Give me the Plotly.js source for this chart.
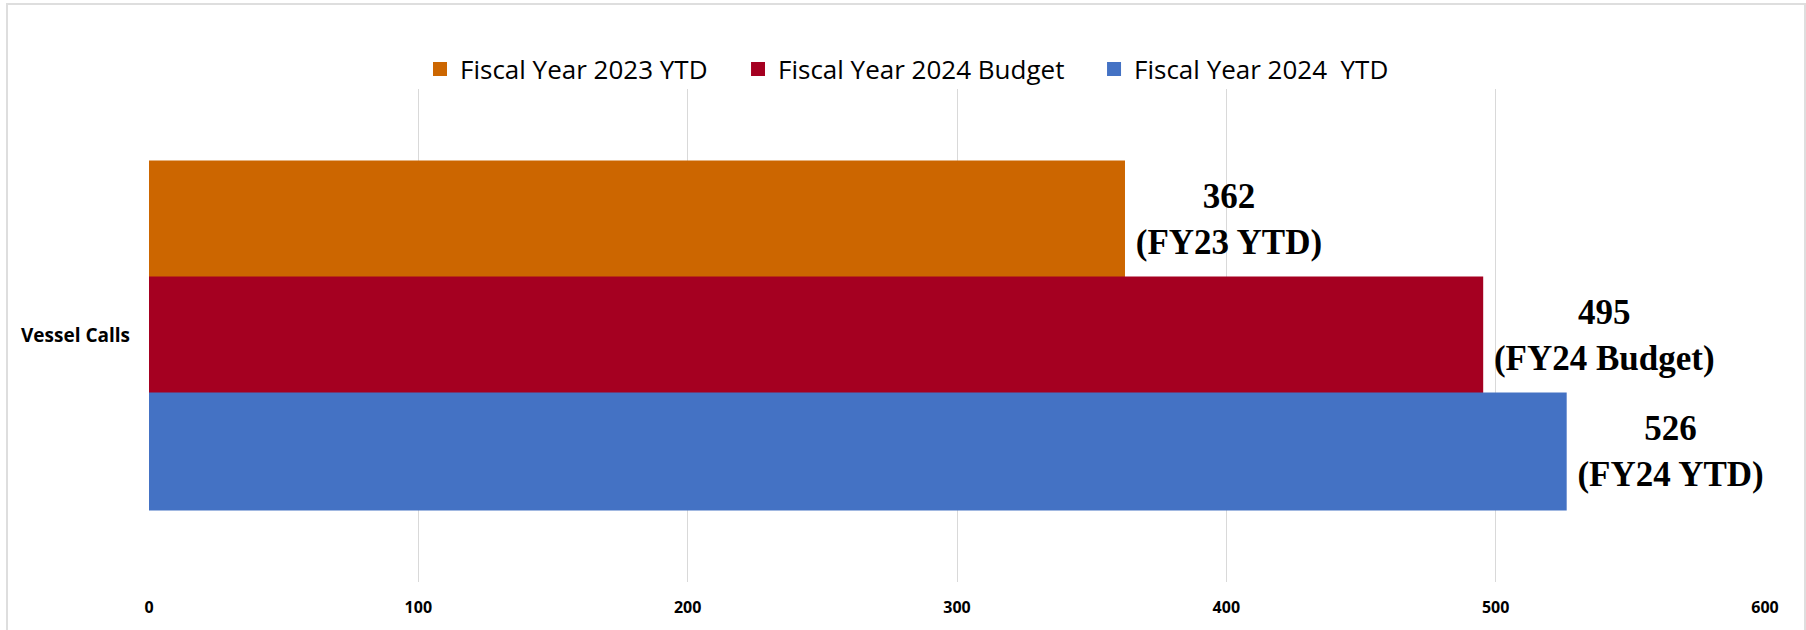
<!DOCTYPE html>
<html><head><meta charset="utf-8">
<script src="https://cdn.plot.ly/plotly-3.0.1.min.js"></script>
<style>
html,body{margin:0;padding:0;background:#fff;overflow:hidden;}
#chart{position:absolute;left:0;top:0;width:1806px;height:630px;}
#frame{position:absolute;left:6px;top:3px;width:1800px;height:660px;border:2px solid #dedede;box-sizing:border-box;pointer-events:none;}
</style>
</head><body>
<div id="chart"></div><div id="frame"></div>
<script>
// ---- data ----
const categories = ['Vessel Calls'];
const seriesNames = ['Fiscal Year 2023 YTD', 'Fiscal Year 2024 Budget', 'Fiscal Year 2024\u00a0 YTD'];
const fy23Ytd = [362];
const fy24Budget = [495];
const fy24Ytd = [526];
const seriesLabels = ['(FY23 YTD)', '(FY24 Budget)', '(FY24 YTD)'];
const seriesColors = ['#CC6600', '#A50021', '#4472C4'];
const xTickVals = [0, 100, 200, 300, 400, 500, 600];

const seriesValues = [fy23Ytd, fy24Budget, fy24Ytd];
const legendIds = ['legend', 'legend2', 'legend3'];
const legendX = [0.1677, 0.3645, 0.5848];

const traces = seriesValues.map((vals, i) => ({
  type: 'bar',
  orientation: 'h',
  name: seriesNames[i],
  y: categories,
  x: vals,
  legend: legendIds[i],
  marker: {color: seriesColors[i], line: {color: seriesColors[i], width: 2}},
  text: vals.map(v => v + '<br>\u00a0' + seriesLabels[i] + '\u00a0'),
  textposition: 'outside',
  cliponaxis: false,
  constraintext: 'none',
  textfont: {family: 'Liberation Serif, Times New Roman, serif', size: 35, weight: 'bold', color: '#000'},
  hoverinfo: 'skip'
}));

const legendBase = {
  orientation: 'h', xanchor: 'left', yanchor: 'middle', y: 1.0406,
  bgcolor: 'rgba(0,0,0,0)', borderwidth: 0,
  font: {family: 'Open Sans, sans-serif', size: 26, color: '#000'}
};

const layout = {
  width: 1806, height: 630,
  margin: {l: 149, r: 41, t: 89, b: 48, pad: 0},
  paper_bgcolor: '#fff', plot_bgcolor: '#fff',
  barmode: 'group', bargap: 0.294, bargroupgap: 0,
  showlegend: true,
  xaxis: {
    range: [0, 600], tickvals: xTickVals, ticktext: xTickVals.map(String),
    showgrid: true, gridcolor: '#d9d9d9', gridwidth: 1,
    zeroline: false, showline: false, ticks: '',
    ticklabelstandoff: 14,
    tickfont: {family: 'Open Sans, sans-serif', size: 16, weight: 'bold', color: '#000'},
    fixedrange: true
  },
  yaxis: {
    type: 'category', autorange: 'reversed',
    showgrid: false, zeroline: false, showline: false, ticks: '',
    ticklabelstandoff: 18,
    tickfont: {family: 'Open Sans, sans-serif', size: 19, weight: 'bold', color: '#000'},
    fixedrange: true
  },
  legend: Object.assign({}, legendBase, {x: legendX[0]}),
  legend2: Object.assign({}, legendBase, {x: legendX[1]}),
  legend3: Object.assign({}, legendBase, {x: legendX[2]}),
  hovermode: false
};

Plotly.newPlot('chart', traces, layout, {staticPlot: true, displayModeBar: false});
</script>
</body></html>
